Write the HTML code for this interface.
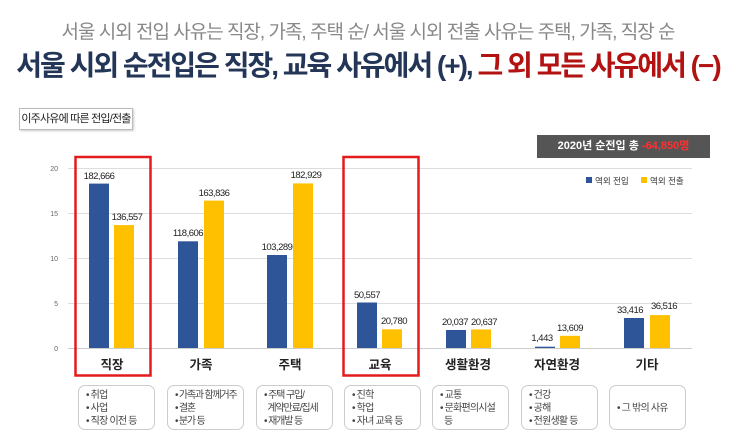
<!DOCTYPE html>
<html><head><meta charset="utf-8"><style>
body{margin:0;width:736px;height:444px;background:#fff;overflow:hidden;position:relative;font-family:"Liberation Sans","Noto Sans CJK KR",sans-serif}
.a{position:absolute}
.t1{left:0;width:736px;top:17px;text-align:center;font-size:19px;color:#888;letter-spacing:-1px;white-space:nowrap}
.t2{left:0;width:736px;top:44px;text-align:center;font-size:28px;font-weight:bold;color:#243658;letter-spacing:-2px;white-space:nowrap}
.sub{left:19px;top:108px;width:112px;height:20px;border:1px solid #bbb;box-shadow:1px 1px 2px #ccc;font-size:11px;text-align:center;line-height:20px;color:#222;white-space:nowrap;letter-spacing:-0.8px}
.net{left:537px;top:135px;width:173px;height:23px;background:#555;color:#fff;font-size:11px;font-weight:bold;text-align:center;line-height:23px;white-space:nowrap}
.desc{top:385px;height:45px;width:77px;border:1px solid #ccc;border-radius:7px;font-size:10px;color:#444;line-height:13px;box-sizing:border-box;padding:3px 0 0 7px;white-space:nowrap;letter-spacing:-0.8px}
</style></head><body>
<div class="a t1">서울 시외 전입 사유는 직장, 가족, 주택 순/ 서울 시외 전출 사유는 주택, 가족, 직장 순</div>
<div class="a t2">서울 시외 순전입은 직장, 교육 사유에서 (+), <span style="color:#b31212">그 외 모든 사유에서 (−)</span></div>
<div class="a sub">이주사유에 따른 전입/전출</div>
<div class="a net">2020년 순전입 총 <span style="color:#ff3030">-64,850명</span></div>
<svg class="a" style="left:0;top:0" width="736" height="444" font-family="Liberation Sans, Noto Sans CJK KR, sans-serif">
<g stroke="#ddd" stroke-width="1">
<line x1="68" x2="692" y1="168.5" y2="168.5"/><line x1="68" x2="692" y1="213.5" y2="213.5"/><line x1="68" x2="692" y1="258.5" y2="258.5"/><line x1="68" x2="692" y1="303.5" y2="303.5"/><line x1="68" x2="692" y1="348.5" y2="348.5" stroke="#ccc"/>
</g>
<g font-size="7" fill="#666" text-anchor="end">
<text x="58" y="171">20</text><text x="58" y="216">15</text><text x="58" y="261">10</text><text x="58" y="306">5</text><text x="58" y="351">0</text>
</g>
<g fill="#2e5597">
<rect x="89" y="183.6" width="20" height="164.4"/><rect x="178" y="241.3" width="20" height="106.7"/><rect x="267" y="255" width="20" height="93"/><rect x="357" y="302.5" width="20" height="45.5"/><rect x="446" y="330" width="20" height="18"/><rect x="535" y="346.7" width="20" height="1.3"/><rect x="624" y="318" width="20" height="30"/>
</g>
<g fill="#ffc000">
<rect x="114" y="225.1" width="20" height="122.9"/><rect x="204" y="200.6" width="20" height="147.4"/><rect x="293" y="183.4" width="20" height="164.6"/><rect x="382" y="329.3" width="20" height="18.7"/><rect x="471" y="329.4" width="20" height="18.6"/><rect x="560" y="335.8" width="20" height="12.2"/><rect x="650" y="315.1" width="20" height="32.9"/>
</g>
<g font-size="9.5" fill="#222" text-anchor="middle" letter-spacing="-0.5">
<text x="99" y="179">182,666</text><text x="127" y="220">136,557</text>
<text x="188" y="236">118,606</text><text x="214" y="196">163,836</text>
<text x="277" y="250">103,289</text><text x="306" y="178">182,929</text>
<text x="367" y="298">50,557</text><text x="394" y="324">20,780</text>
<text x="455" y="325">20,037</text><text x="484" y="325">20,637</text>
<text x="542" y="341">1,443</text><text x="570" y="331">13,609</text>
<text x="630" y="313">33,416</text><text x="664" y="309">36,516</text>
</g>
<g font-size="12.5" fill="#222" text-anchor="middle" font-weight="bold">
<text x="112" y="369">직장</text><text x="201" y="369">가족</text><text x="290" y="369">주택</text><text x="380" y="369">교육</text><text x="468" y="369">생활환경</text><text x="557" y="369">자연환경</text><text x="647" y="369">기타</text>
</g>
<rect x="75.5" y="157" width="75" height="218.5" fill="none" stroke="#e41b1b" stroke-width="2.5"/>
<rect x="343.5" y="157" width="75" height="218.5" fill="none" stroke="#e41b1b" stroke-width="2.5"/>
<rect x="586" y="177" width="6" height="6" fill="#2e5597"/><text x="595" y="184" font-size="8.5" fill="#333">역외 전입</text>
<rect x="641" y="177" width="6" height="6" fill="#ffc000"/><text x="650" y="184" font-size="8.5" fill="#333">역외 전출</text>
</svg>
<div class="a desc" style="left:78px">• 취업<br>• 사업<br>• 직장 이전 등</div>
<div class="a desc" style="left:167px;letter-spacing:-1.2px">• 가족과 함께거주<br>• 결혼<br>• 분가 등</div>
<div class="a desc" style="left:256px;letter-spacing:-1.1px">• 주택 구입/<br>&nbsp;&nbsp;계약만료/집세<br>• 재개발 등</div>
<div class="a desc" style="left:344px">• 진학<br>• 학업<br>• 자녀 교육 등</div>
<div class="a desc" style="left:432px">• 교통<br>• 문화편의시설<br>&nbsp;&nbsp;등</div>
<div class="a desc" style="left:521px">• 건강<br>• 공해<br>• 전원생활 등</div>
<div class="a desc" style="left:609px;line-height:45px;padding-top:0">• 그 밖의 사유</div>
</body></html>
